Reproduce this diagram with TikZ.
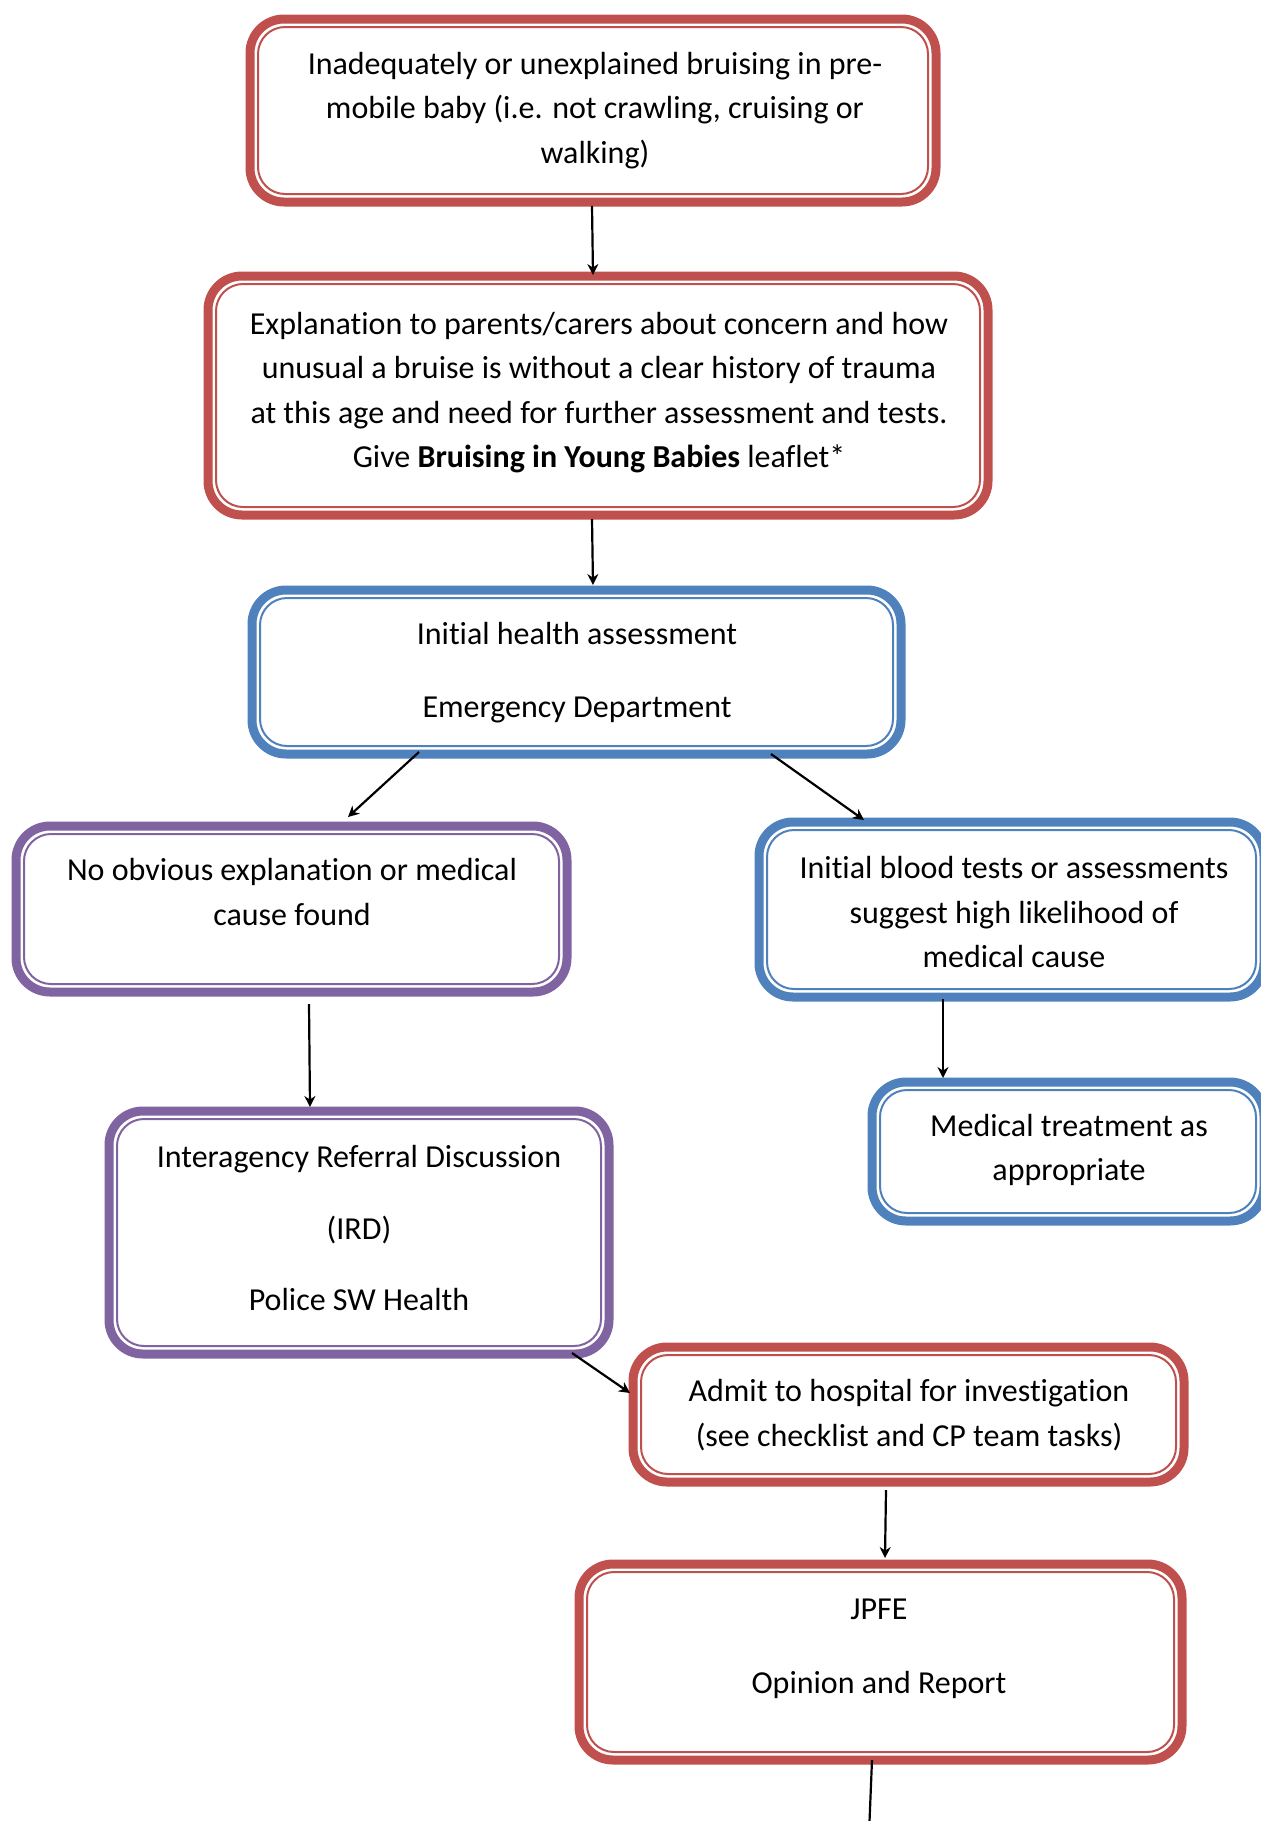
\documentclass[tikz,border=0pt]{standalone}
\usepackage{fontspec}
\setmainfont{Carlito}[Ligatures=NoCommon]
\usetikzlibrary{calc,arrows.meta}
\definecolor{cred}{RGB}{192,80,77}
\definecolor{cblue}{RGB}{79,129,189}
\definecolor{cpurp}{RGB}{128,100,162}
\tikzset{
  frame/.style={draw=#1, line width=4.5pt, rounded corners=17pt, rectangle, inner sep=0pt, outer sep=0pt, fill=white},
  inner/.style={draw=#1, line width=1pt, rounded corners=13.5pt},
  txt/.style={align=center, inner sep=0pt, font=\fontsize{16}{22.3}\selectfont},
  arr/.style={draw=black, line width=1.1pt, -{Stealth[length=5.5pt,width=5.5pt]}}
}
\newcommand\innerframe[2]{\draw[inner=#2] ($(#1.north west)+(8,8)$) rectangle ($(#1.south east)-(8,8)$);}
\begin{document}
\begin{tikzpicture}[x=0.5pt,y=-0.5pt]
\useasboundingbox (0,0) rectangle (1261,1821);
\clip (0,0) rectangle (1261,1821);
% frames
\node[frame=cred, minimum width=343pt, minimum height=91.5pt] (b1) at (593,110.5) {};
\node[frame=cred, minimum width=390pt, minimum height=119.5pt] (b2) at (598,395.5) {};
\node[frame=cblue, minimum width=324.5pt, minimum height=82pt] (b3) at (576.5,672) {};
\node[frame=cpurp, minimum width=275.5pt, minimum height=83pt] (b4) at (291.5,909) {};
\node[frame=cblue, minimum width=252.5pt, minimum height=87.5pt] (b5) at (1011.5,909.5) {};
\node[frame=cblue, minimum width=196pt, minimum height=69.5pt] (b6) at (1068,1151.5) {};
\node[frame=cpurp, minimum width=250pt, minimum height=121.5pt] (b7) at (359,1232.5) {};
\node[frame=cred, minimum width=275.5pt, minimum height=67.5pt] (b8) at (908.5,1414.5) {};
\node[frame=cred, minimum width=301.5pt, minimum height=98pt] (b9) at (880.5,1662) {};
\innerframe{b1}{cred}
\innerframe{b2}{cred}
\innerframe{b3}{cblue}
\innerframe{b4}{cpurp}
\innerframe{b5}{cblue}
\innerframe{b6}{cblue}
\innerframe{b7}{cpurp}
\innerframe{b8}{cred}
\innerframe{b9}{cred}
% texts
\node[txt] (t1) at (595,110.5) {Inadequately or unexplained bruising in pre-\\mobile baby (i.e. not crawling, cruising or\\walking)};
\node[txt] (t2) at (599,392.5) {Explanation to parents/carers about concern and how\\unusual a bruise is without a clear history of trauma\\at this age and need for further assessment and tests.\\Give \textbf{Bruising in Young Babies} leaflet*};
\node[txt] (t3) at (577,672.5) {Initial health assessment\\[14pt]Emergency Department};
\node[txt] (t4) at (292,892) {No obvious explanation or medical\\cause found};
\node[txt] (t5) at (1014,912) {Initial blood tests or assessments\\suggest high likelihood of\\medical cause};
\node[txt] (t6) at (1069,1150) {Medical treatment as\\appropriate};
\node[txt] (t7) at (359,1228) {Interagency Referral Discussion\\[13.5pt](IRD)\\[13.5pt]Police SW Health};
\node[txt] (t8) at (909,1415) {Admit to hospital for investigation\\(see checklist and CP team tasks)};
\node[txt] (t9) at (879,1648.5) {JPFE\\[14.5pt]Opinion and Report};
% connectors
\coordinate (offpage) at (869,1834);
\draw[arr] ($(b1.south)+(-1,4)$) -- ($(b2.north)+(-5,-1)$);
\draw[arr] ($(b2.south)+(-6,4)$) -- ($(b3.north)+(16.5,-5)$);
\draw[arr] ($(b3.south)+(-157.5,-2)$) -- ($(b4.north)+(56.5,-9)$);
\draw[arr] ($(b3.south)+(194.5,0)$) -- ($(b5.north)+(-147.5,-2)$);
\draw[arr] ($(b4.south)+(17.5,12)$) -- ($(b7.north)+(-49,-4)$);
\draw[arr] ($(b5.south)+(-68.5,2)$) -- ($(b6.north)+(-125,-4)$);
\draw[arr] ($(b7.south)+(213,-1)$) -- ($(b8.west)+(-3,-21.5)$);
\draw[arr] ($(b8.south)+(-22.5,8)$) -- ($(b9.north)+(4.5,-6)$);
\draw[arr] ($(b9.south)+(-8.5,0)$) -- (offpage);
\end{tikzpicture}
\end{document}
